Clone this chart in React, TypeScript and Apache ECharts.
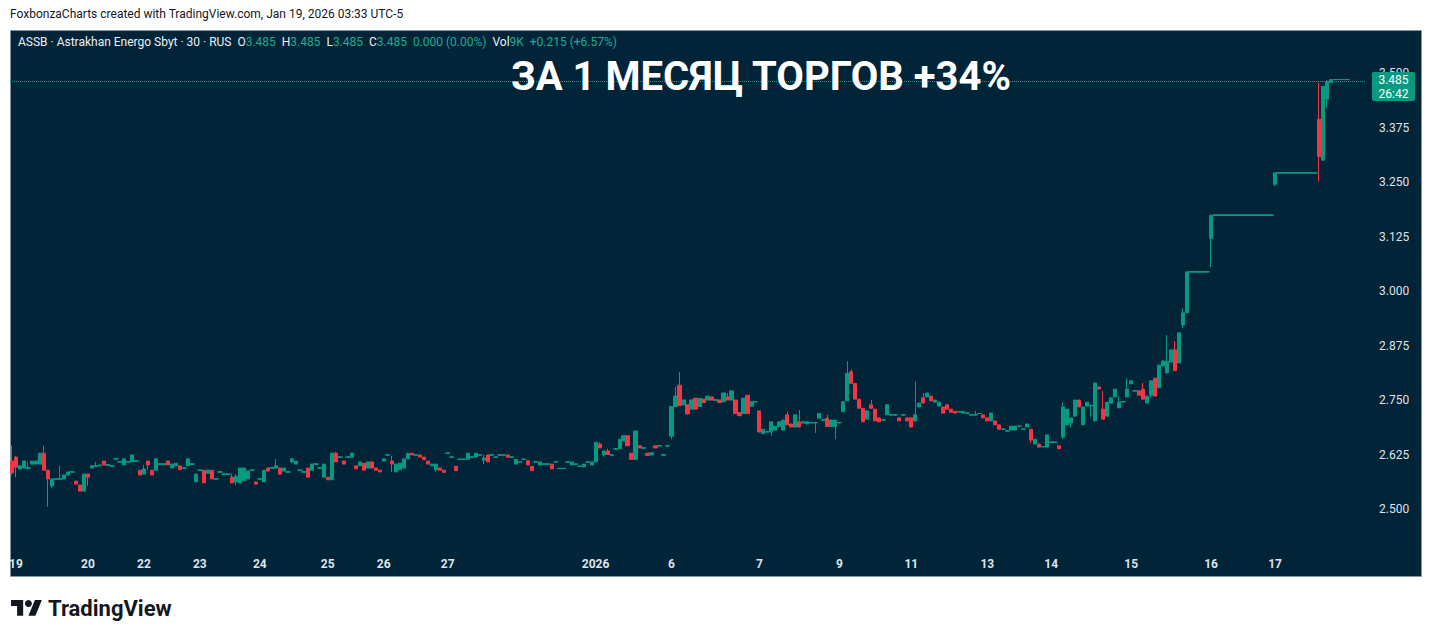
import React, { useEffect, useRef } from 'react';
import * as echarts from 'echarts';

// ---- data: 30-minute candles [open, close, low, high], grouped by trading day ----
const dayLabels = ['', '19', '20', '22', '23', '24', '25', '26', '27', '2026', '6', '7', '9', '11', '13', '14', '15', '16', '17'];

const dec18 = [[2.610, 2.583, 2.578, 2.645]];
const dec19 = [
  [2.619, 2.596, 2.573, 2.622], [2.592, 2.599, 2.590, 2.599], [2.594, 2.610, 2.594, 2.610], [2.594, 2.594, 2.594, 2.608],
  [2.603, 2.610, 2.603, 2.610], [2.603, 2.610, 2.603, 2.610], [2.603, 2.628, 2.603, 2.628], [2.628, 2.589, 2.589, 2.645],
  [2.589, 2.569, 2.505, 2.589], [2.553, 2.569, 2.548, 2.569], [2.569, 2.569, 2.569, 2.569], [2.569, 2.569, 2.569, 2.599],
  [2.569, 2.578, 2.569, 2.578], [2.578, 2.585, 2.578, 2.585], [2.585, 2.585, 2.585, 2.585], [2.564, 2.557, 2.557, 2.564],
  [2.555, 2.541, 2.541, 2.555], [2.541, 2.580, 2.541, 2.580],
];
const dec20 = [
  [2.580, 2.573, 2.553, 2.580], [2.594, 2.599, 2.594, 2.599], [2.599, 2.599, 2.599, 2.608], [2.599, 2.601, 2.599, 2.601],
  [2.610, 2.601, 2.601, 2.610], [2.601, 2.601, 2.601, 2.601], [2.599, 2.599, 2.599, 2.599], [2.615, 2.615, 2.615, 2.615],
  [2.608, 2.608, 2.608, 2.608], [2.601, 2.615, 2.601, 2.615], [2.608, 2.608, 2.608, 2.608], [2.608, 2.624, 2.608, 2.624],
  [2.610, 2.610, 2.610, 2.610], [2.589, 2.578, 2.578, 2.589],
];
const dec22 = [
  [2.580, 2.592, 2.580, 2.601], [2.610, 2.601, 2.589, 2.610], [2.589, 2.578, 2.578, 2.589], [2.589, 2.615, 2.589, 2.615],
  [2.603, 2.603, 2.603, 2.603], [2.603, 2.603, 2.603, 2.603], [2.610, 2.601, 2.601, 2.610], [2.594, 2.603, 2.594, 2.603],
  [2.599, 2.605, 2.599, 2.605], [2.599, 2.590, 2.590, 2.599], [2.594, 2.594, 2.594, 2.594], [2.599, 2.615, 2.599, 2.615],
  [2.603, 2.603, 2.603, 2.603], [2.563, 2.580, 2.560, 2.580],
];
const dec23 = [
  [2.589, 2.589, 2.589, 2.589], [2.589, 2.560, 2.560, 2.589], [2.582, 2.589, 2.582, 2.589], [2.589, 2.569, 2.569, 2.589],
  [2.569, 2.569, 2.569, 2.569], [2.585, 2.585, 2.585, 2.585], [2.580, 2.580, 2.580, 2.580], [2.580, 2.580, 2.580, 2.580],
  [2.573, 2.560, 2.560, 2.580], [2.562, 2.575, 2.555, 2.580], [2.560, 2.594, 2.560, 2.594], [2.565, 2.594, 2.565, 2.594],
  [2.569, 2.587, 2.569, 2.587], [2.589, 2.589, 2.589, 2.589], [2.562, 2.557, 2.557, 2.562],
];
const dec24 = [
  [2.569, 2.569, 2.569, 2.569], [2.562, 2.589, 2.562, 2.589], [2.594, 2.587, 2.587, 2.594], [2.594, 2.594, 2.594, 2.594],
  [2.594, 2.599, 2.594, 2.615], [2.594, 2.580, 2.580, 2.594], [2.587, 2.594, 2.587, 2.594], [2.585, 2.585, 2.585, 2.585],
  [2.608, 2.615, 2.605, 2.617], [2.603, 2.610, 2.603, 2.610], [2.589, 2.589, 2.589, 2.589], [2.585, 2.585, 2.585, 2.585],
  [2.594, 2.573, 2.573, 2.594], [2.589, 2.603, 2.589, 2.603], [2.603, 2.603, 2.603, 2.603], [2.594, 2.594, 2.594, 2.594],
  [2.573, 2.603, 2.573, 2.603],
];
const dec25 = [
  [2.573, 2.567, 2.567, 2.573], [2.567, 2.628, 2.567, 2.628], [2.628, 2.608, 2.608, 2.631], [2.619, 2.619, 2.619, 2.619],
  [2.610, 2.603, 2.603, 2.610], [2.619, 2.619, 2.619, 2.619], [2.619, 2.628, 2.619, 2.628], [2.599, 2.592, 2.592, 2.599],
  [2.599, 2.608, 2.599, 2.608], [2.605, 2.589, 2.589, 2.605], [2.594, 2.608, 2.594, 2.608], [2.608, 2.594, 2.594, 2.608],
  [2.594, 2.589, 2.589, 2.594], [2.589, 2.585, 2.585, 2.589],
];
const dec26 = [
  [2.610, 2.615, 2.610, 2.615], [2.624, 2.624, 2.624, 2.624], [2.610, 2.603, 2.585, 2.622], [2.585, 2.603, 2.585, 2.603],
  [2.590, 2.605, 2.590, 2.605], [2.594, 2.615, 2.594, 2.615], [2.615, 2.628, 2.615, 2.628], [2.628, 2.624, 2.624, 2.628],
  [2.624, 2.624, 2.624, 2.624], [2.624, 2.619, 2.619, 2.624], [2.619, 2.613, 2.613, 2.619], [2.610, 2.603, 2.603, 2.610],
  [2.599, 2.603, 2.599, 2.603], [2.590, 2.603, 2.585, 2.603], [2.594, 2.589, 2.589, 2.594], [2.589, 2.584, 2.584, 2.589],
];
const dec27 = [
  [2.628, 2.628, 2.628, 2.628], [2.619, 2.619, 2.619, 2.619], [2.598, 2.588, 2.588, 2.598], [2.614, 2.614, 2.614, 2.614],
  [2.614, 2.614, 2.614, 2.614], [2.614, 2.628, 2.614, 2.628], [2.619, 2.619, 2.619, 2.619], [2.619, 2.628, 2.619, 2.628],
  [2.624, 2.624, 2.624, 2.624], [2.612, 2.617, 2.603, 2.624], [2.624, 2.608, 2.608, 2.624], [2.624, 2.624, 2.624, 2.624],
  [2.619, 2.619, 2.619, 2.619], [2.624, 2.624, 2.624, 2.624], [2.624, 2.624, 2.624, 2.624], [2.624, 2.619, 2.619, 2.624],
  [2.619, 2.619, 2.619, 2.619], [2.603, 2.614, 2.603, 2.614], [2.608, 2.608, 2.608, 2.608], [2.614, 2.614, 2.614, 2.614],
  [2.611, 2.601, 2.601, 2.611], [2.598, 2.588, 2.588, 2.598], [2.608, 2.608, 2.608, 2.608], [2.601, 2.608, 2.601, 2.608],
  [2.603, 2.603, 2.603, 2.603], [2.603, 2.603, 2.603, 2.603], [2.603, 2.592, 2.592, 2.603], [2.608, 2.608, 2.608, 2.608],
  [2.593, 2.593, 2.593, 2.593], [2.593, 2.593, 2.593, 2.593], [2.608, 2.608, 2.608, 2.608], [2.601, 2.608, 2.601, 2.608],
  [2.603, 2.603, 2.603, 2.603], [2.598, 2.598, 2.598, 2.598], [2.597, 2.603, 2.595, 2.603], [2.608, 2.608, 2.608, 2.608],
  [2.601, 2.608, 2.601, 2.608],
];
const jan05 = [
  [2.608, 2.653, 2.608, 2.653], [2.649, 2.640, 2.640, 2.653], [2.624, 2.633, 2.620, 2.633], [2.633, 2.625, 2.625, 2.638],
  [2.624, 2.624, 2.624, 2.624], [2.638, 2.638, 2.638, 2.638], [2.638, 2.660, 2.638, 2.660], [2.656, 2.668, 2.656, 2.668],
  [2.668, 2.645, 2.645, 2.668], [2.628, 2.614, 2.614, 2.628], [2.614, 2.679, 2.612, 2.679], [2.645, 2.640, 2.640, 2.645],
  [2.640, 2.640, 2.640, 2.640], [2.628, 2.623, 2.623, 2.628], [2.624, 2.629, 2.624, 2.629], [2.645, 2.640, 2.640, 2.645],
  [2.645, 2.645, 2.645, 2.645], [2.624, 2.624, 2.624, 2.624], [2.645, 2.645, 2.645, 2.645],
];
const jan06 = [
  [2.667, 2.735, 2.660, 2.735], [2.735, 2.759, 2.735, 2.780], [2.784, 2.737, 2.737, 2.814], [2.739, 2.750, 2.739, 2.750],
  [2.739, 2.718, 2.716, 2.739], [2.729, 2.750, 2.729, 2.750], [2.754, 2.729, 2.729, 2.754], [2.735, 2.754, 2.735, 2.754],
  [2.752, 2.744, 2.744, 2.752], [2.750, 2.759, 2.750, 2.759], [2.757, 2.750, 2.750, 2.757], [2.750, 2.750, 2.750, 2.750],
  [2.750, 2.744, 2.744, 2.750], [2.746, 2.766, 2.746, 2.766], [2.757, 2.750, 2.750, 2.766], [2.750, 2.771, 2.750, 2.771],
  [2.750, 2.719, 2.719, 2.750], [2.721, 2.714, 2.714, 2.721], [2.719, 2.754, 2.719, 2.754], [2.761, 2.719, 2.719, 2.761],
  [2.736, 2.746, 2.736, 2.746], [2.746, 2.746, 2.746, 2.746],
];
const jan07 = [
  [2.725, 2.677, 2.675, 2.725], [2.673, 2.683, 2.673, 2.683], [2.677, 2.677, 2.677, 2.677], [2.677, 2.700, 2.668, 2.700],
  [2.681, 2.690, 2.681, 2.690], [2.689, 2.700, 2.689, 2.700], [2.681, 2.704, 2.681, 2.704], [2.716, 2.693, 2.693, 2.723],
  [2.695, 2.688, 2.688, 2.695], [2.688, 2.716, 2.688, 2.716], [2.700, 2.688, 2.688, 2.727], [2.697, 2.700, 2.697, 2.700],
  [2.695, 2.700, 2.695, 2.700], [2.698, 2.698, 2.698, 2.698], [2.698, 2.698, 2.675, 2.698], [2.708, 2.719, 2.708, 2.719],
  [2.704, 2.704, 2.704, 2.704], [2.708, 2.689, 2.689, 2.716], [2.689, 2.704, 2.689, 2.704], [2.689, 2.704, 2.660, 2.704],
];
const jan09 = [
  [2.698, 2.698, 2.698, 2.698], [2.723, 2.746, 2.723, 2.746], [2.748, 2.811, 2.748, 2.839], [2.815, 2.788, 2.788, 2.820],
  [2.788, 2.752, 2.752, 2.788], [2.752, 2.731, 2.731, 2.752], [2.731, 2.700, 2.700, 2.731], [2.706, 2.725, 2.706, 2.725],
  [2.739, 2.731, 2.731, 2.750], [2.729, 2.702, 2.702, 2.729], [2.709, 2.700, 2.700, 2.709], [2.704, 2.704, 2.704, 2.704],
  [2.716, 2.739, 2.716, 2.739], [2.716, 2.716, 2.716, 2.716], [2.716, 2.716, 2.716, 2.716], [2.709, 2.702, 2.702, 2.709],
  [2.716, 2.716, 2.716, 2.716], [2.709, 2.702, 2.702, 2.709],
];
const jan11 = [
  [2.709, 2.688, 2.688, 2.709], [2.702, 2.716, 2.702, 2.792], [2.734, 2.743, 2.734, 2.743], [2.755, 2.743, 2.743, 2.766],
  [2.757, 2.766, 2.757, 2.766], [2.759, 2.748, 2.748, 2.759], [2.745, 2.750, 2.745, 2.750], [2.736, 2.745, 2.736, 2.745],
  [2.734, 2.720, 2.720, 2.734], [2.739, 2.729, 2.729, 2.739], [2.729, 2.722, 2.722, 2.729], [2.724, 2.720, 2.720, 2.724],
  [2.723, 2.723, 2.723, 2.723], [2.720, 2.724, 2.720, 2.724], [2.720, 2.720, 2.720, 2.720], [2.716, 2.716, 2.716, 2.716],
  [2.716, 2.716, 2.716, 2.725], [2.719, 2.719, 2.719, 2.719], [2.716, 2.709, 2.709, 2.716],
];
const jan13 = [
  [2.709, 2.702, 2.702, 2.709], [2.702, 2.720, 2.702, 2.720], [2.702, 2.693, 2.693, 2.702], [2.693, 2.683, 2.683, 2.693],
  [2.683, 2.683, 2.683, 2.683], [2.679, 2.679, 2.679, 2.679], [2.681, 2.690, 2.681, 2.690], [2.681, 2.690, 2.681, 2.690],
  [2.690, 2.690, 2.690, 2.690], [2.683, 2.683, 2.683, 2.683], [2.688, 2.695, 2.688, 2.695], [2.683, 2.658, 2.651, 2.683],
  [2.649, 2.660, 2.649, 2.660], [2.649, 2.642, 2.642, 2.649], [2.643, 2.643, 2.643, 2.643], [2.642, 2.670, 2.642, 2.670],
];
const jan14 = [
  [2.653, 2.653, 2.653, 2.653], [2.653, 2.653, 2.653, 2.653], [2.645, 2.638, 2.638, 2.645], [2.665, 2.734, 2.660, 2.745],
  [2.693, 2.729, 2.693, 2.729], [2.697, 2.709, 2.687, 2.709], [2.713, 2.750, 2.713, 2.750], [2.750, 2.734, 2.734, 2.750],
  [2.693, 2.734, 2.693, 2.734], [2.736, 2.745, 2.736, 2.745], [2.736, 2.738, 2.712, 2.738], [2.702, 2.789, 2.702, 2.789],
  [2.780, 2.775, 2.775, 2.780], [2.729, 2.706, 2.706, 2.771], [2.713, 2.745, 2.713, 2.745], [2.743, 2.755, 2.743, 2.755],
  [2.757, 2.775, 2.757, 2.775], [2.732, 2.745, 2.732, 2.759], [2.746, 2.746, 2.746, 2.746], [2.757, 2.775, 2.757, 2.800],
];
const jan15 = [
  [2.787, 2.794, 2.787, 2.794], [2.771, 2.771, 2.771, 2.771], [2.771, 2.761, 2.761, 2.771], [2.775, 2.752, 2.752, 2.789],
  [2.743, 2.759, 2.743, 2.759], [2.761, 2.794, 2.755, 2.794], [2.800, 2.759, 2.759, 2.800], [2.778, 2.830, 2.778, 2.830],
  [2.828, 2.839, 2.828, 2.842], [2.812, 2.839, 2.812, 2.899], [2.837, 2.865, 2.837, 2.865], [2.865, 2.817, 2.817, 2.885],
  [2.835, 2.904, 2.835, 2.904], [2.922, 2.950, 2.915, 2.960], [2.950, 3.044, 2.950, 3.044], [3.044, 3.044, 3.044, 3.044],
  [3.044, 3.044, 3.044, 3.044], [3.044, 3.044, 3.044, 3.044], [3.044, 3.044, 3.044, 3.044], [3.044, 3.044, 3.044, 3.044],
];
const jan16 = [
  [3.120, 3.174, 3.055, 3.174], [3.174, 3.174, 3.174, 3.174], [3.174, 3.174, 3.174, 3.174], [3.174, 3.174, 3.174, 3.174],
  [3.174, 3.174, 3.174, 3.174], [3.174, 3.174, 3.174, 3.174], [3.174, 3.174, 3.174, 3.174], [3.174, 3.174, 3.174, 3.174],
  [3.174, 3.174, 3.174, 3.174], [3.174, 3.174, 3.174, 3.174], [3.174, 3.174, 3.174, 3.174], [3.174, 3.174, 3.174, 3.174],
  [3.174, 3.174, 3.174, 3.174], [3.174, 3.174, 3.174, 3.174], [3.174, 3.174, 3.174, 3.174], [3.174, 3.174, 3.174, 3.174],
];
const jan17 = [
  [3.245, 3.271, 3.240, 3.271], [3.271, 3.271, 3.271, 3.271], [3.271, 3.271, 3.271, 3.271], [3.271, 3.271, 3.271, 3.271],
  [3.271, 3.271, 3.271, 3.271], [3.271, 3.271, 3.271, 3.271], [3.271, 3.271, 3.271, 3.271], [3.271, 3.271, 3.271, 3.271],
  [3.271, 3.271, 3.271, 3.271], [3.271, 3.271, 3.271, 3.271], [3.271, 3.271, 3.271, 3.271], [3.394, 3.308, 3.251, 3.478],
  [3.300, 3.469, 3.300, 3.469], [3.440, 3.480, 3.420, 3.484], [3.478, 3.485, 3.478, 3.485], [3.485, 3.485, 3.485, 3.485],
  [3.485, 3.485, 3.485, 3.485], [3.485, 3.485, 3.485, 3.485], [3.485, 3.485, 3.485, 3.485],
];

const sessions = [dec18, dec19, dec20, dec22, dec23, dec24, dec25, dec26, dec27, jan05, jan06, jan07, jan09, jan11, jan13, jan14, jan15, jan16, jan17];
const priceTicks = [2.5, 2.625, 2.75, 2.875, 3.0, 3.125, 3.25, 3.375, 3.5];
const lastPrice = 3.485;
const countdown = '26:42';
const rightPadBars = 4;

const UP = '#089981';
const DOWN = '#F23645';
const PANEL = '#012438';
const AXIS_TEXT = '#dfe3ea';

const watermark = 'FoxbonzaCharts created with TradingView.com, Jan 19, 2026 03:33 UTC-5';
const title = 'ЗА 1 МЕСЯЦ ТОРГОВ +34%';

function buildOption() {
  const categories: string[] = [];
  const candles: any[] = [];
  const tickAt: Record<number, string> = {};
  sessions.forEach((bars, s) => {
    bars.forEach((b, k) => {
      if (k === 0 && dayLabels[s]) tickAt[categories.length] = dayLabels[s];
      categories.push(`s${s}-${k}`);
      candles.push(b);
    });
  });
  for (let i = 0; i < rightPadBars; i++) {
    categories.push(`pad${i}`);
    candles.push('-');
  }
  // flat (open == close) bars drawn a bit wider so that runs of them read as one continuous line
  const flatBars = candles.map((c) => (Array.isArray(c) && c[0] === c[1] ? c : '-'));

  const font = 'Roboto, "Noto Sans", sans-serif';
  const candleStyle = {
    color: UP,
    color0: DOWN,
    borderColor: UP,
    borderColor0: DOWN,
    borderColorDoji: UP,
    borderWidth: 1,
  };

  return {
    animation: false,
    backgroundColor: '#ffffff',
    grid: { left: 10, right: 68, top: 18.5, bottom: 74.5, containLabel: false },
    xAxis: {
      type: 'category',
      data: categories,
      boundaryGap: true,
      axisLine: { show: false },
      axisTick: { show: false },
      splitLine: { show: false },
      axisLabel: {
        interval: (idx: number) => tickAt[idx] !== undefined,
        formatter: (_v: string, idx: number) => tickAt[idx] || '',
        color: AXIS_TEXT,
        fontSize: 12,
        fontFamily: font,
        fontWeight: 'bold',
        margin: 0,
        verticalAlign: 'middle',
      },
    },
    yAxis: {
      type: 'value',
      position: 'right',
      min: 2.375,
      max: 3.625,
      interval: 0.125,
      scale: true,
      axisLine: { show: false },
      axisTick: { show: false },
      splitLine: { show: false },
      axisLabel: {
        formatter: (v: number) => (priceTicks.some((t) => Math.abs(t - v) < 1e-6) ? v.toFixed(3) : ''),
        color: AXIS_TEXT,
        fontSize: 12,
        fontFamily: font,
        margin: 14,
      },
    },
    series: [
      {
        type: 'candlestick',
        data: candles,
        barWidth: 3.6,
        itemStyle: candleStyle,
        markLine: {
          silent: true,
          symbol: ['none', 'none'],
          animation: false,
          label: { show: false },
          lineStyle: { type: 'dotted', color: UP, width: 1 },
          data: [{ yAxis: lastPrice }],
        },
      },
      {
        type: 'candlestick',
        data: flatBars,
        barWidth: 5,
        silent: true,
        itemStyle: candleStyle,
      },
    ],
    graphic: [
      {
        type: 'rect',
        z: -10,
        silent: true,
        shape: { x: 10.5, y: 30.5, width: 1411, height: 546 },
        style: { fill: PANEL, stroke: '#8393a0', lineWidth: 1 },
      },
      {
        type: 'text',
        x: 10,
        y: 14,
        style: { text: watermark, fill: '#131722', fontSize: 12, fontFamily: font, verticalAlign: 'middle' },
      },
      {
        type: 'text',
        x: 18,
        y: 42,
        z: 50,
        style: {
          text:
            '{w|ASSB · Astrakhan Energo Sbyt · 30 · RUS}  {w|O}{g|3.485}  {w|H}{g|3.485}  {w|L}{g|3.485}  {w|C}{g|3.485}  {g|0.000 (0.00%)}  {w|Vol}{g|9K}  {g|+0.215 (+6.57%)}',
          fill: '#e8ebf0',
          fontSize: 12,
          fontFamily: font,
          verticalAlign: 'middle',
          rich: {
            w: { fill: '#eef0f4', color: '#eef0f4', fontSize: 12, fontFamily: font },
            g: { fill: '#22ab94', color: '#22ab94', fontSize: 12, fontFamily: font },
          },
        },
      },
      {
        type: 'text',
        x: 761,
        y: 76,
        z: 50,
        style: {
          text: title,
          fill: '#ffffff',
          fontSize: 40,
          fontWeight: 'bold',
          fontFamily: font,
          align: 'center',
          verticalAlign: 'middle',
        },
      },
      {
        type: 'rect',
        z: 100,
        shape: { x: 1372, y: 72, width: 43, height: 29, r: 2 },
        style: { fill: UP },
      },
      {
        type: 'text',
        z: 101,
        x: 1393.5,
        y: 79.5,
        style: { text: lastPrice.toFixed(3), fill: '#ffffff', fontSize: 12, fontFamily: font, align: 'center', verticalAlign: 'middle' },
      },
      {
        type: 'text',
        z: 101,
        x: 1393.5,
        y: 93.5,
        style: { text: countdown, fill: '#ffffff', fontSize: 12, fontFamily: font, align: 'center', verticalAlign: 'middle' },
      },
      {
        type: 'group',
        x: 11,
        y: 596.5,
        scaleX: 0.87,
        scaleY: 0.87,
        children: [
          { type: 'polygon', shape: { points: [[14, 22], [7, 22], [7, 11], [0, 11], [0, 4], [14, 4]] }, style: { fill: '#131722' } },
          { type: 'polygon', shape: { points: [[28, 22], [20, 22], [27.5, 4], [35.5, 4]] }, style: { fill: '#131722' } },
          { type: 'circle', shape: { cx: 20, cy: 8, r: 4 }, style: { fill: '#131722' } },
        ],
      },
      {
        type: 'text',
        x: 48,
        y: 608,
        style: { text: 'TradingView', fill: '#131722', fontSize: 22, fontWeight: 'bold', fontFamily: font, verticalAlign: 'middle' },
      },
    ],
  };
}

export default function App() {
  const ref = useRef<HTMLDivElement>(null);
  useEffect(() => {
    if (!ref.current) return;
    const chart = echarts.init(ref.current, undefined, { renderer: 'svg' });
    chart.setOption(buildOption() as any);
    return () => chart.dispose();
  }, []);
  return (
    <div
      ref={ref}
      style={{ position: 'fixed', left: 0, top: 0, width: 1433, height: 638, background: '#ffffff' }}
    />
  );
}
